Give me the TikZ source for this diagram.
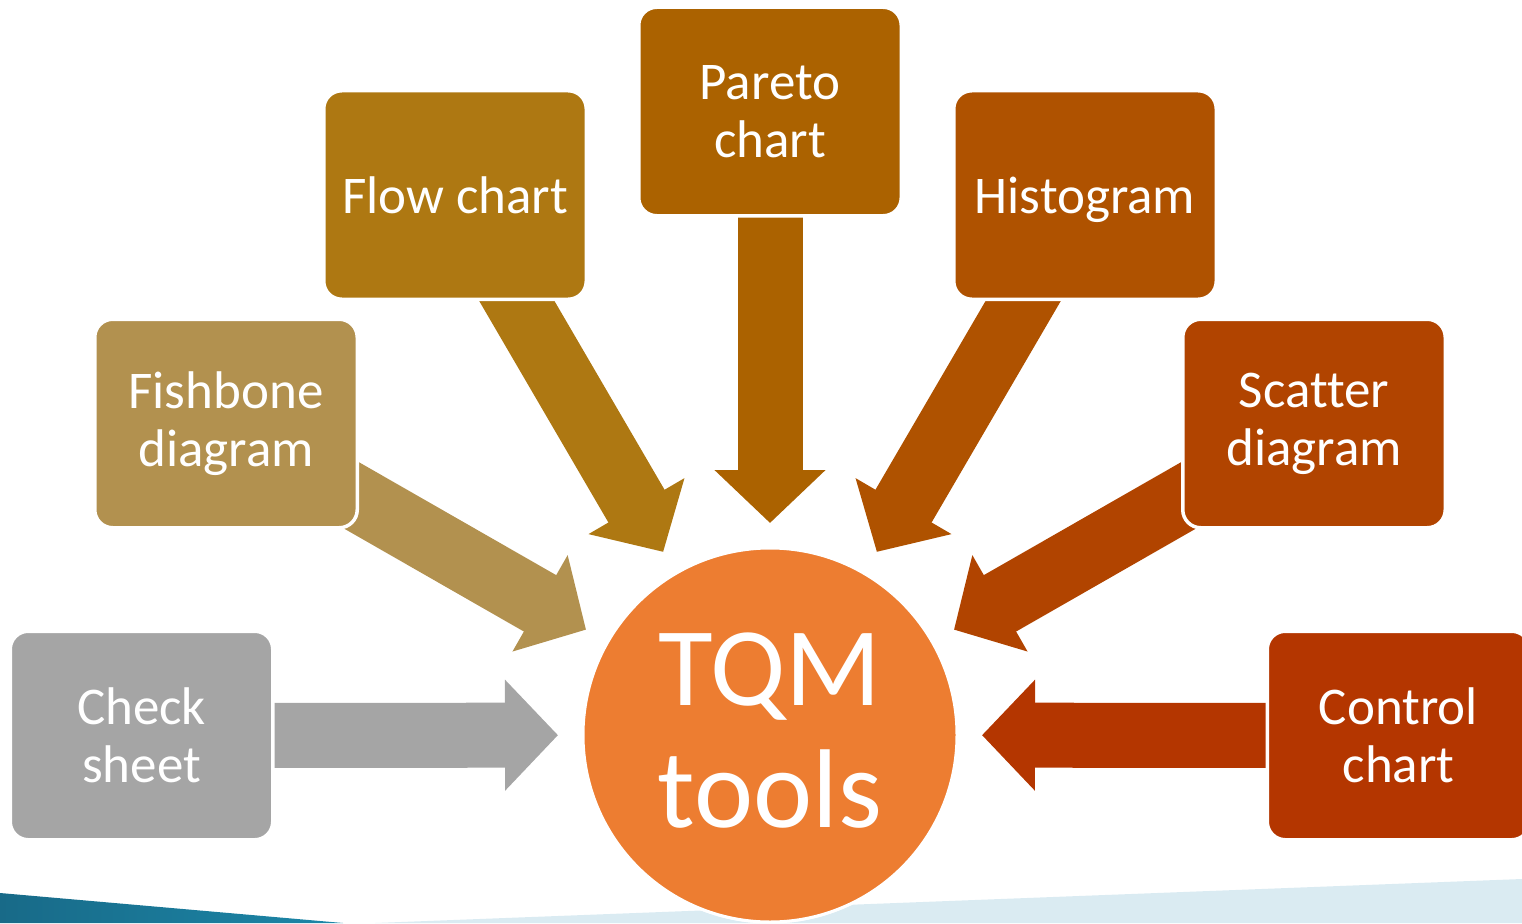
\documentclass[tikz,border=0pt]{standalone}
\usepackage{fontspec}
\setmainfont[RawFeature={-liga;-clig;-dlig}]{Carlito}
\usetikzlibrary{arrows.meta,calc}

% palette
\definecolor{cgray}{HTML}{A5A5A5}
\definecolor{cfish}{HTML}{B2914F}
\definecolor{cflow}{HTML}{AE7812}
\definecolor{cpareto}{HTML}{AB6200}
\definecolor{chisto}{HTML}{AF5200}
\definecolor{cscatter}{HTML}{B14400}
\definecolor{ccontrol}{HTML}{B43600}
\definecolor{ccore}{HTML}{ED7D31}
\definecolor{bandlight}{HTML}{DAEBF2}
\definecolor{banddarkA}{HTML}{186A88}
\definecolor{banddarkB}{HTML}{1C87A8}

\tikzset{
  toolbox/.style={rectangle, rounded corners=18pt, draw=white, line width=3.5pt,
    minimum width=262.5pt, minimum height=208.5pt, text=white, align=center,
    font=\fontsize{53}{58}\selectfont, inner sep=0pt},
  corecircle/.style={circle, fill=ccore, draw=white, line width=3pt,
    minimum size=374pt, inner sep=0pt},
  coretext/.style={text=white, align=center, font=\fontsize{112}{122}\selectfont},
  fatarrow/.style={line width=65pt,
    -{Triangle[length=53pt, width=108pt]}},
}

\begin{document}
\begin{tikzpicture}[x=1pt, y=1pt]
\useasboundingbox (0,0) rectangle (1522,-923);

% decorative bands along the lower edge
\shade[left color=banddarkA, right color=banddarkB]
  (0,-893) -- (343,-923) -- (0,-923) -- cycle;
\fill[bandlight] (375,-923) -- (1522,-879) -- (1522,-923) -- cycle;

% hub
\node[corecircle] (tqm) at (770,-735) {};

% box centres, all on rays through the hub centre
\path
  (141.5,-735.5) coordinate (pcheck)
  (226,-423.5)   coordinate (pfish)
  (455,-195)     coordinate (pflow)
  (770,-111.5)   coordinate (ppareto)
  (1085,-195)    coordinate (phisto)
  (1314,-423.5)  coordinate (pscatter)
  (1398.5,-735.5) coordinate (pcontrol);

% converging block arrows, tails tucked under the boxes
\foreach \p/\c in {pcheck/cgray, pfish/cfish, pflow/cflow, ppareto/cpareto,
                   phisto/chisto, pscatter/cscatter, pcontrol/ccontrol}{
  \draw[fatarrow, draw=\c, fill=\c]
    ($(tqm.center)!540pt!(\p)$) -- ($(tqm.center)!212pt!(\p)$);
}

% boxes
\node[toolbox, fill=cgray]    (check)   at (pcheck)   {Check\\sheet};
\node[toolbox, fill=cfish]    (fish)    at (pfish)    {Fishbone\\diagram};
\node[toolbox, fill=cflow]    (flow)    at (pflow)    {Flow chart};
\node[toolbox, fill=cpareto]  (pareto)  at (ppareto)  {Pareto\\chart};
\node[toolbox, fill=chisto, text depth=0pt] (histo) at (phisto) {Histogram};
\node[toolbox, fill=cscatter] (scatter) at (pscatter) {Scatter\\diagram};
\node[toolbox, fill=ccontrol] (control) at (pcontrol) {Control\\chart};

% hub redrawn over the bands, with its label
\node[corecircle] at (tqm) {};
\node[coretext] (tqmlabel) at ($(tqm.center)+(0,4)$) {TQM\\tools};
\end{tikzpicture}
\end{document}
